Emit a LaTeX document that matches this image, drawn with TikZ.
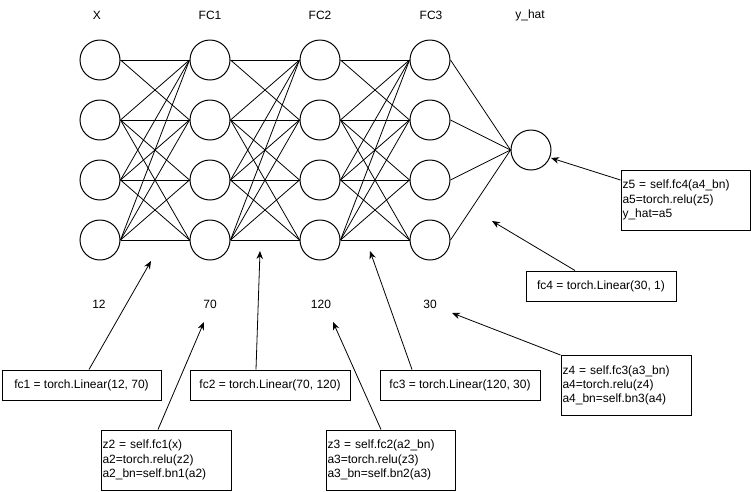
\documentclass[tikz,border=0pt]{standalone}
\usepackage{fontspec}
\setmainfont{Liberation Sans}
\usetikzlibrary{arrows.meta}

\newcommand{\NNfont}{\fontsize{12}{14.2}\selectfont}
\newcommand{\NNnumy}{304}
\newcommand{\NNtitley}{15}

\begin{document}
\begin{tikzpicture}[x=1pt,y=-1pt,
	neuron/.style={circle,draw=black,line width=1pt,minimum size=40pt,inner sep=0pt},
	link/.style={draw=black,line width=0.8pt},
	lbl/.style={font=\NNfont,inner sep=0pt},
	codebox/.style={draw=black,line width=1pt,font=\NNfont,minimum width=#1,minimum height=30pt,inner sep=0pt},
	multibox/.style={draw=black,line width=1pt,font=\NNfont,align=left,text width=#1,minimum height=60pt,inner sep=1.5pt},
	arr/.style={line width=0.8pt,-{Stealth[length=8pt,width=6.5pt]}}]

	%The frame
	\useasboundingbox (0,0) rectangle (751,491);

	%The neurons
	\foreach \l/\xx in {0/100,1/210,2/320,3/430}
		\foreach \r/\yy in {1/60,2/120,3/180,4/240}
			\node[neuron] (n\l-\r) at (\xx,\yy) {};
	\node[neuron] (yhat) at (531,150) {};

	%The weights between the layers
	\foreach \l/\n in {0/1,1/2,2/3}{
		\foreach \t in {1,2} \draw[link] (n\l-1.east) -- (n\n-\t.west);
		\foreach \s in {2,3,4}
			\foreach \t in {1,...,4}
				\draw[link] (n\l-\s.east) -- (n\n-\t.west);
	}
	\foreach \s in {1,...,4} \draw[link] (n3-\s.east) -- (yhat.west);

	%The layer titles and sizes
	\node[lbl] (tX) at (97,\NNtitley) {X};
	\node[lbl] (tFCa) at (210,\NNtitley) {FC1};
	\node[lbl] (tFCb) at (320,\NNtitley) {FC2};
	\node[lbl] (tFCc) at (431,\NNtitley) {FC3};
	\node[lbl] (tyhat) at (530,\NNtitley) {y\_hat};
	\node[lbl] (szX) at (99,\NNnumy) {12};
	\node[lbl] (szFCa) at (210,\NNnumy) {70};
	\node[lbl] (szFCb) at (321,\NNnumy) {120};
	\node[lbl] (szFCc) at (430,\NNnumy) {30};

	%The code boxes
	\node[codebox=159pt] (fcone) at (81.5,385) {fc1 = torch.Linear(12, 70)};
	\node[codebox=160pt] (fctwo) at (270,385) {fc2 = torch.Linear(70, 120)};
	\node[codebox=160pt] (fcthree) at (460,385) {fc3 = torch.Linear(120, 30)};
	\node[codebox=150pt] (fcfour) at (601,286) {fc4 = torch.Linear(30, 1)};
	\node[multibox=127pt] (ztwo) at (166,460) {z2 = self.fc1(x)\\a2=torch.relu(z2)\\a2\_bn=self.bn1(a2)};
	\node[multibox=126pt] (zthree) at (390.5,460) {z3 = self.fc2(a2\_bn)\\a3=torch.relu(z3)\\a3\_bn=self.bn2(a3)};
	\node[multibox=127pt] (zfour) at (626,385.5) {z4 = self.fc3(a3\_bn)\\a4=torch.relu(z4)\\a4\_bn=self.bn3(a4)};
	\node[multibox=126pt] (zfive) at (685.5,200) {z5 = self.fc4(a4\_bn)\\a5=torch.relu(z5)\\y\_hat=a5};

	%The arrow tips
	\coordinate (pfcone) at (151,261);
	\coordinate (pztwo) at (204,322);
	\coordinate (pfctwo) at (260,251);
	\coordinate (pzthree) at (333,322);
	\coordinate (pfcthree) at (370,251);
	\coordinate (pzfour) at (452,313);
	\coordinate (pfcfour) at (492,221);
	\coordinate (pzfive) at (551,158);

	%The arrows
	\draw[arr] ([xshift=7.5pt]fcone.north) -- (pfcone);
	\draw[arr] ([xshift=-8pt]ztwo.north) -- (pztwo);
	\draw[arr] ([xshift=-14pt]fctwo.north) -- (pfctwo);
	\draw[arr] ([xshift=-9.5pt]zthree.north) -- (pzthree);
	\draw[arr] ([xshift=-48pt]fcthree.north) -- (pfcthree);
	\draw[arr] (zfour.north west) -- (pzfour);
	\draw[arr] ([xshift=-26pt]fcfour.north) -- (pfcfour);
	\draw[arr] ([yshift=20pt]zfive.west) -- (pzfive);

\end{tikzpicture}
\end{document}
